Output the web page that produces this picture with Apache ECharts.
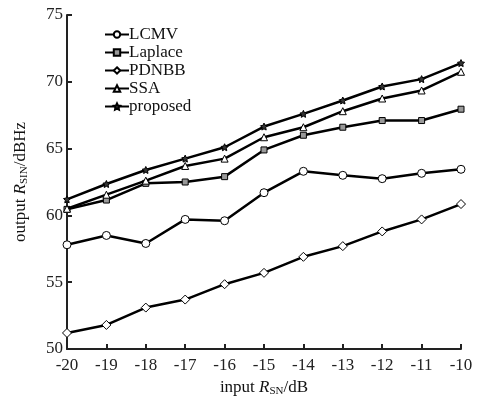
<!DOCTYPE html>
<html><head><meta charset="utf-8">
<script src="https://cdn.jsdelivr.net/npm/echarts@6/dist/echarts.min.js"></script>
<style>html,body{margin:0;padding:0;background:#fff}#c{width:478px;height:403px}</style>
</head><body><div id="c"></div>
<script>
const xValues = [-20,-19,-18,-17,-16,-15,-14,-13,-12,-11,-10];
const seriesNames = ['LCMV','Laplace','PDNBB','SSA','proposed'];
const lcmv     = [57.8,58.5,57.9,59.7,59.6,61.7,63.3,63.0,62.75,63.15,63.45];
const laplace  = [60.45,61.15,62.4,62.5,62.9,64.9,66.0,66.6,67.1,67.1,67.95];
const pdnbb    = [51.2,51.8,53.1,53.7,54.85,55.7,56.9,57.7,58.8,59.7,60.85];
const ssa      = [60.5,61.55,62.6,63.7,64.25,65.85,66.6,67.8,68.75,69.35,70.75];
const proposed = [61.2,62.35,63.4,64.25,65.1,66.65,67.6,68.6,69.65,70.2,71.4];
const yTicks = [50,55,60,65,70,75];

const star = 'path://M0,-10 L2.9,-4 9.5,-3.1 4.7,1.5 5.9,8.1 0,5 -5.9,8.1 -4.7,1.5 -9.5,-3.1 -2.9,-4Z';
const symbols = ['circle','rect','diamond','triangle',star];
const fills = ['#fff','#999','#fff','#fff','#333'];
const sizes = [8,6,9,7,7];
const allData = [lcmv,laplace,pdnbb,ssa,proposed];
const serif = '"Liberation Serif","DejaVu Serif",serif';

const chart = echarts.init(document.getElementById('c'));
chart.setOption({
  animation:false,
  backgroundColor:'#fff',
  grid:{left:67,right:17,top:15,bottom:54},
  legend:{
    orient:'vertical', left:99, top:21, itemGap:1,
    itemWidth:24, itemHeight:8,
    textStyle:{fontFamily:serif,fontSize:17,color:'#111',padding:[0,0,0,-5]},
    data:seriesNames
  },
  xAxis:{
    type:'value', min:-20, max:-10, interval:1,
    axisLine:{lineStyle:{color:'#222',width:2}},
    axisTick:{inside:true,length:5,lineStyle:{color:'#222',width:2}},
    splitLine:{show:false},
    axisLabel:{fontFamily:serif,fontSize:17,color:'#222',margin:8},
    name:'{a|input }{i|R}{s|SN}{a|/dB}', nameLocation:'middle', nameGap:30,
    nameTextStyle:{rich:{
      a:{fontFamily:serif,fontSize:17,color:'#111'},
      i:{fontFamily:serif,fontSize:17,fontStyle:'italic',color:'#111'},
      s:{fontFamily:serif,fontSize:11,color:'#111',padding:[7,0,0,0]}
    }}
  },
  yAxis:{
    type:'value', min:50, max:75, interval:5,
    axisLine:{show:true,lineStyle:{color:'#222',width:2}},
    axisTick:{show:true,inside:true,length:5,lineStyle:{color:'#222',width:2}},
    splitLine:{show:false},
    axisLabel:{fontFamily:serif,fontSize:17,color:'#222',margin:4},
    name:'{a|output }{i|R}{s|SIN}{a|/dBHz}', nameLocation:'middle', nameGap:37, nameRotate:90,
    nameTextStyle:{rich:{
      a:{fontFamily:serif,fontSize:17,color:'#111'},
      i:{fontFamily:serif,fontSize:17,fontStyle:'italic',color:'#111'},
      s:{fontFamily:serif,fontSize:11,color:'#111',padding:[7,0,0,0]}
    }}
  },
  series: seriesNames.map((n,k)=>({
    name:n, type:'line',
    data: xValues.map((x,i)=>[x,allData[k][i]]),
    symbol:symbols[k], symbolSize:sizes[k], showAllSymbol:true,
    lineStyle:{color:'#000',width:2.5},
    itemStyle:{color:fills[k],borderColor:'#000',borderWidth:1},
    z: 2+k
  }))
});
</script></body></html>
